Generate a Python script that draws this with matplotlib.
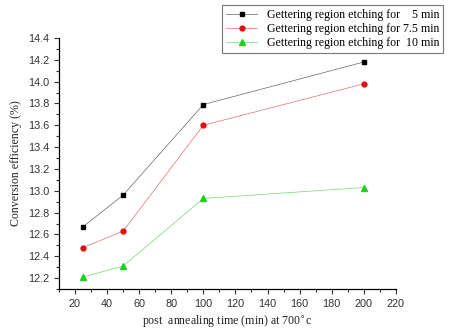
import matplotlib.pyplot as plt
from matplotlib.ticker import MultipleLocator

# annealing time (min) and conversion efficiency (%) for each etching time
anneal_time = [25, 50, 100, 200]
eff_5min = [12.67, 12.96, 13.79, 14.18]
eff_7p5min = [12.48, 12.63, 13.60, 13.98]
eff_10min = [12.21, 12.31, 12.93, 13.03]
labels = ["Gettering region etching for    5 min",
          "Gettering region etching for 7.5 min",
          "Gettering region etching for  10 min"]

fig = plt.figure(figsize=(4.53, 3.33), dpi=100)
ax = fig.add_axes([0.130, 0.132, 0.744, 0.754])

ax.plot(anneal_time, eff_5min, color="#666666", lw=0.5, marker="s", ms=3.5,
        mfc="black", mec="black", label=labels[0])
ax.plot(anneal_time, eff_7p5min, color="#e07070", lw=0.5, marker="o", ms=3.5,
        mfc="#e01010", mec="#e01010", label=labels[1])
ax.plot(anneal_time, eff_10min, color="#70d870", lw=0.5, marker="^", ms=4,
        mfc="#20d020", mec="#20d020", label=labels[2])

ax.set_xlim(10, 220)
ax.set_ylim(12.1, 14.4)
ax.xaxis.set_major_locator(MultipleLocator(20))
ax.xaxis.set_minor_locator(MultipleLocator(10))
ax.yaxis.set_major_locator(MultipleLocator(0.2))
ax.yaxis.set_minor_locator(MultipleLocator(0.1))
ax.tick_params(which="both", direction="out", labelsize=7.8, width=0.8,
               colors="#333333")
ax.tick_params(which="major", length=3.5)
ax.tick_params(which="minor", length=2)
for lab in ax.get_xticklabels() + ax.get_yticklabels():
    lab.set_fontfamily("Liberation Sans")

ax.spines["top"].set_visible(False)
ax.spines["right"].set_visible(False)
ax.spines["left"].set_linewidth(0.9)
ax.spines["bottom"].set_linewidth(0.9)

ax.set_xlabel("post  annealing time (min) at 700$^{\\circ}$c",
              family="Liberation Serif", fontsize=8.6, color="#222222")
ax.set_ylabel("Conversion efficiency (%)", family="Liberation Serif",
              fontsize=8.6, color="#222222")

leg = ax.legend(loc="upper left", bbox_to_anchor=(0.484, 1.131),
                borderaxespad=0,
                prop={"family": "Liberation Serif", "size": 8.6},
                frameon=True, fancybox=False, edgecolor="#555555",
                handlelength=2.6, borderpad=0.35, labelspacing=0.15,
                handletextpad=0.8)
leg.get_frame().set_linewidth(0.8)

fig.savefig("out.png", dpi=100)
